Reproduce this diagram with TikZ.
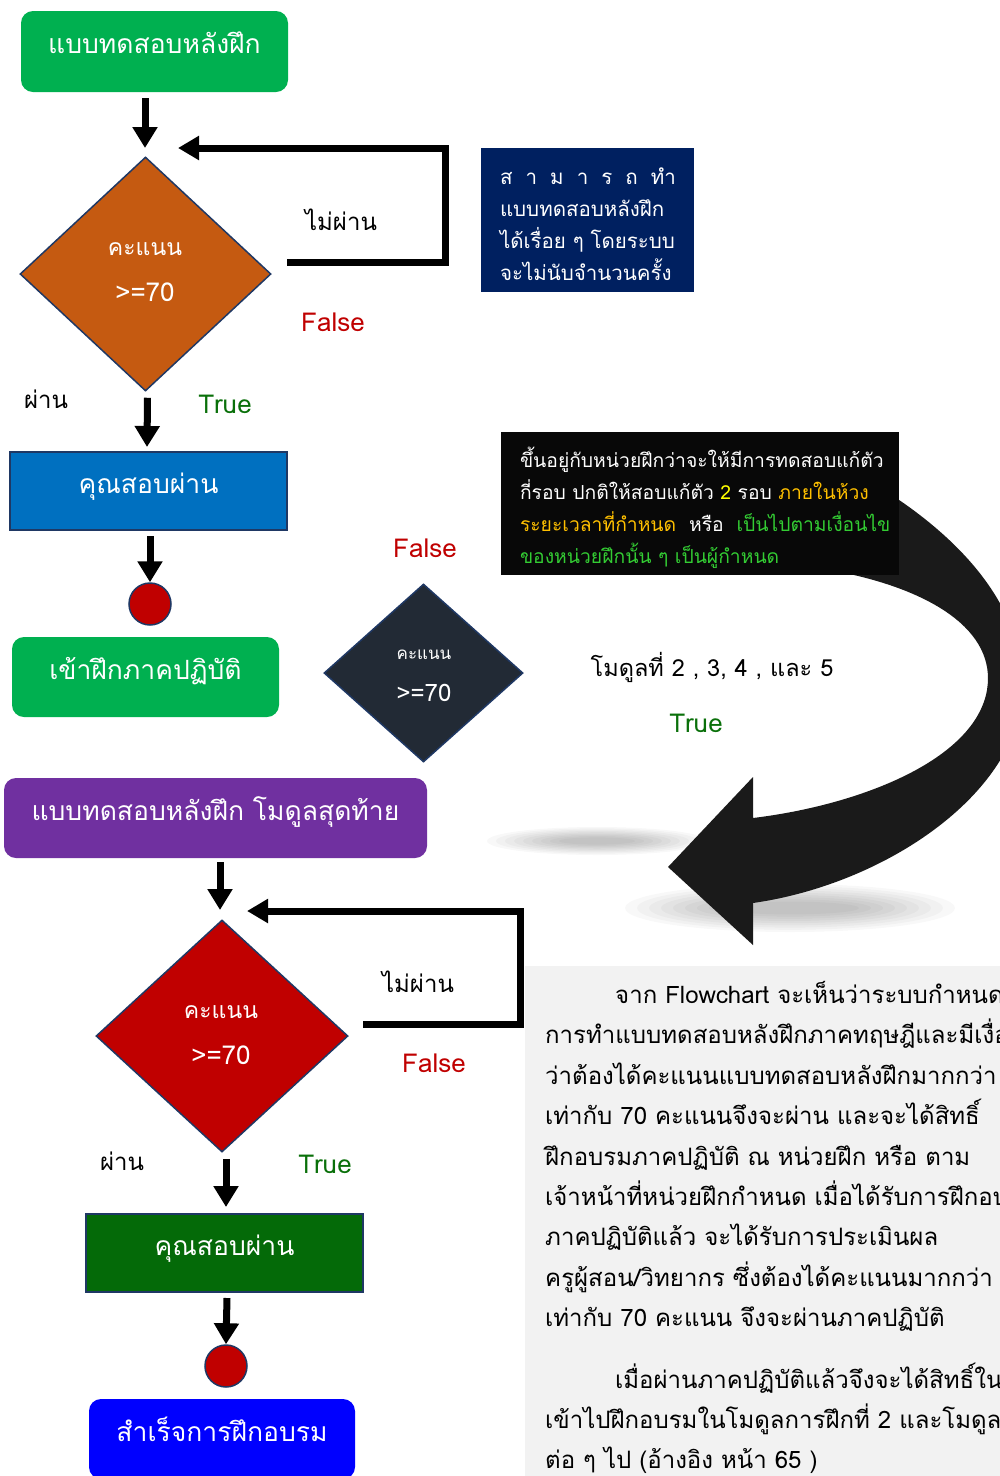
\documentclass[tikz,border=0pt]{standalone}
\usepackage{fontspec}
\setmainfont[Script=Thai]{Loma}
\usetikzlibrary{shapes.geometric,arrows.meta}
\definecolor{cgreen}{HTML}{00B050}
\definecolor{corange}{HTML}{C55A11}
\definecolor{cnavyline}{HTML}{1F3864}
\definecolor{cnavy}{HTML}{002060}
\definecolor{cblue}{HTML}{0070C0}
\definecolor{cred}{HTML}{C00000}
\definecolor{cdark}{HTML}{222A35}
\definecolor{cblack}{HTML}{080808}
\definecolor{cpurple}{HTML}{7030A0}
\definecolor{cdgreen}{HTML}{046A08}
\definecolor{cfblue}{HTML}{0000FF}
\definecolor{cpanel}{HTML}{F2F2F2}
\definecolor{ctrue}{HTML}{0A700A}
\definecolor{cyel}{HTML}{FFFF00}
\definecolor{cora}{HTML}{FFC000}
\definecolor{clime}{HTML}{33CC33}
\definecolor{carrow}{HTML}{1A1A1A}
\newcommand\fsz[2]{\fontsize{#1}{#2}\selectfont}
\begin{document}
\begin{tikzpicture}[x=1pt,y=-1pt,
  rbox/.style={rounded corners=12pt, inner sep=0pt, text=white, font=\fsz{26.5}{30}, text height=20pt, text depth=16pt},
  sbox/.style={draw=cnavyline, line width=1.5pt, inner sep=0pt, text=white, font=\fsz{26.5}{30}, text height=20pt, text depth=16pt},
  dia/.style={diamond, draw=cnavyline, line width=1.5pt, inner sep=0pt},
  dtxt/.style={text=white, inner sep=0pt, font=\fsz{23}{26}},
  dot/.style={circle, draw=cnavyline, line width=1.5pt, fill=cred, minimum size=42pt, inner sep=0pt},
  arr/.style={line width=7pt, -{Triangle[width=24pt,length=21pt]}},
  looparr/.style={line width=7pt, line join=miter, -{Triangle[width=23pt,length=21pt]}},
  lbl/.style={font=\fsz{24}{28}, inner sep=0pt},
  lblf/.style={lbl, font=\fsz{26}{30}, text=cred},
  lblt/.style={lbl, font=\fsz{26}{30}, text=ctrue}]
\useasboundingbox (0,0) rectangle (1000,1476);
\begin{scope}
\clip (0,0) rectangle (1000,1476);
\fill[white] (0,0) rectangle (1000,1476);
% text panel
\fill[cpanel] (525,966) rectangle (1010,1490);
\node[anchor=north west, text width=700pt, align=left, inner sep=0pt, font=\fsz{24}{40.4}] (para) at (545,981)
{\hspace*{70pt}จาก Flowchart จะเห็นว่าระบบกำหนด\\
การทำแบบทดสอบหลังฝึกภาคทฤษฎีและมีเงื่อนไข\\
ว่าต้องได้คะแนนแบบทดสอบหลังฝึกมากกว่า\\
เท่ากับ 70 คะแนนจึงจะผ่าน และจะได้สิทธิ์\\
ฝึกอบรมภาคปฏิบัติ  ณ หน่วยฝึก หรือ ตาม\\
เจ้าหน้าที่หน่วยฝึกกำหนด  เมื่อได้รับการฝึกอบรม\\
ภาคปฏิบัติแล้ว  จะได้รับการประเมินผล\\
ครูผู้สอน/วิทยากร  ซึ่งต้องได้คะแนนมากกว่า\\
เท่ากับ 70 คะแนน จึงจะผ่านภาคปฏิบัติ\\[21pt]
\hspace*{70pt}เมื่อผ่านภาคปฏิบัติแล้วจึงจะได้สิทธิ์ใน\\
เข้าไปฝึกอบรมในโมดูลการฝึกที่ 2 และโมดูลการ\\
ต่อ ๆ ไป  (อ้างอิง หน้า 65 )};
% shadows of big arrow
\foreach \i in {0,...,8}{
  \fill[black, opacity=0.026] (597,841) ellipse ({110-\i*9} and {14-\i*1.3});
  \fill[black, opacity=0.026] (790,908) ellipse ({165-\i*12} and {24-\i*2.2});
}
% big curved arrow
\fill[carrow] (850,470) .. controls (960,530) and (1030,610) .. (1022,700)
  .. controls (1010,800) and (880,885) .. (753,903) -- (753,945) -- (668,867)
  -- (753,777) -- (753,818) .. controls (860,805) and (975,760) .. (987,690)
  .. controls (997,630) and (930,590) .. (840,572) -- (800,520) -- cycle;
% notes
\node[fill=cnavy, minimum width=213pt, minimum height=144pt, inner sep=0pt] (note1) at (587.5,220) {};
\node[text width=190pt, align=left, inner sep=0pt, text=white, font=\fsz{20.5}{32}] (note1t) at (595,224)
{\hbox to 176pt{ส\hfill า\hfill ม\hfill า\hfill ร\hfill ถ\hfill ทำ}\\
แบบทดสอบหลังฝึก\\
ได้เรื่อย ๆ โดยระบบ\\
จะไม่นับจำนวนครั้ง};
\node[fill=cblack, minimum width=398pt, minimum height=143pt, inner sep=0pt] (note2) at (700,503.5) {};
\node[text width=380pt, align=left, inner sep=0pt, text=white, font=\fsz{19.3}{32}] (note2t) at (710,508)
{ขึ้นอยู่กับหน่วยฝึกว่าจะให้มีการทดสอบแก้ตัว\\
กี่รอบ ปกติให้สอบแก้ตัว \textcolor{cyel}{2} รอบ \textcolor{cora}{ภายในห้วง}\\
\textcolor{cora}{ระยะเวลาที่กำหนด}\ \ หรือ\ \ \textcolor{clime}{เป็นไปตามเงื่อนไข}\\
\textcolor{clime}{ของหน่วยฝึกนั้น ๆ เป็นผู้กำหนด}};
% top flow
\node[rbox, fill=cgreen, minimum width=267pt, minimum height=81pt] (start) at (154.5,51.5) {แบบทดสอบหลังฝึก};
\node[dia, fill=corange, minimum width=251pt, minimum height=234pt] (d1) at (145.5,274) {};
\node[dtxt] (d1a) at (145,249) {คะแนน};
\node[dtxt, font=\fsz{26}{30}] (d1b) at (145,292) {>=70};
\node[sbox, fill=cblue, minimum width=277pt, minimum height=78pt] (pass1) at (148.5,491) {คุณสอบผ่าน};
\node[dot] (c1) at (150,604) {};
\node[rbox, fill=cgreen, minimum width=267pt, minimum height=80pt] (prac) at (145.5,677) {เข้าฝึกภาคปฏิบัติ};
\node[dia, fill=cdark, minimum width=199pt, minimum height=178pt] (d2) at (423.5,673) {};
\node[dtxt, font=\fsz{17}{20}] (d2a) at (424,655) {คะแนน};
\node[dtxt, font=\fsz{24}{28}] (d2b) at (424,693) {>=70};
% labels
\node[lbl] (nf1) at (341,220) {ไม่ผ่าน};
\node[lblf] (f1) at (333,322) {False};
\node[lbl] (p1) at (46,399) {ผ่าน};
\node[lblt] (t1) at (225,404) {True};
\node[lblf] (f2) at (425,548) {False};
\node[lbl, font=\fsz{23.5}{30}] (mod) at (712,667) {โมดูลที่ 2 , 3, 4 , และ 5};
\node[lblt] (t2) at (696,723) {True};
% arrows top
\coordinate (a1s) at (145,98);
\coordinate (a1e) at (145,148);
\coordinate (a2e) at (147,447);
\coordinate (a3s) at (150,536);
\draw[arr] (a1s) -- (a1e);
\draw[arr] ([xshift=2pt,yshift=-6pt]d1.south) -- (a2e);
\draw[arr] (a3s) -- (c1.north);
\coordinate (l1a) at (287,262);
\coordinate (l1b) at (445,148);
\coordinate (l1c) at (178,148);
\draw[looparr] (l1a) -| (l1b) -- (l1c);
% bottom flow
\node[rbox, fill=cpurple, minimum width=423pt, minimum height=80pt] (start2) at (215.5,818) {แบบทดสอบหลังฝึก โมดูลสุดท้าย};
\node[dia, fill=cred, minimum width=252pt, minimum height=232pt] (d3) at (222,1036) {};
\node[dtxt] (d3a) at (221,1012) {คะแนน};
\node[dtxt, font=\fsz{26}{30}] (d3b) at (221,1055) {>=70};
\node[sbox, fill=cdgreen, minimum width=277pt, minimum height=78pt] (pass2) at (224.5,1253) {คุณสอบผ่าน};
\node[dot] (c2) at (226,1366) {};
\node[rbox, fill=cfblue, minimum width=266pt, minimum height=80pt] (done) at (222,1439) {สำเร็จการฝึกอบรม};
\node[lbl] (nf2) at (418,982) {ไม่ผ่าน};
\node[lblf] (f3) at (434,1063) {False};
\node[lbl] (p2) at (122,1161) {ผ่าน};
\node[lblt] (t3) at (325,1164) {True};
\coordinate (a4s) at (220,862);
\coordinate (a4e) at (220,910);
\coordinate (a5e) at (226,1207);
\coordinate (a6s) at (227,1298);
\draw[arr] (a4s) -- (a4e);
\draw[arr] ([xshift=4pt,yshift=-6pt]d3.south) -- (a5e);
\draw[arr] (a6s) -- (c2.north);
\coordinate (l2a) at (363,1024);
\coordinate (l2b) at (520,911);
\coordinate (l2c) at (247,911);
\draw[looparr] (l2a) -| (l2b) -- (l2c);
\end{scope}
\end{tikzpicture}
\end{document}
